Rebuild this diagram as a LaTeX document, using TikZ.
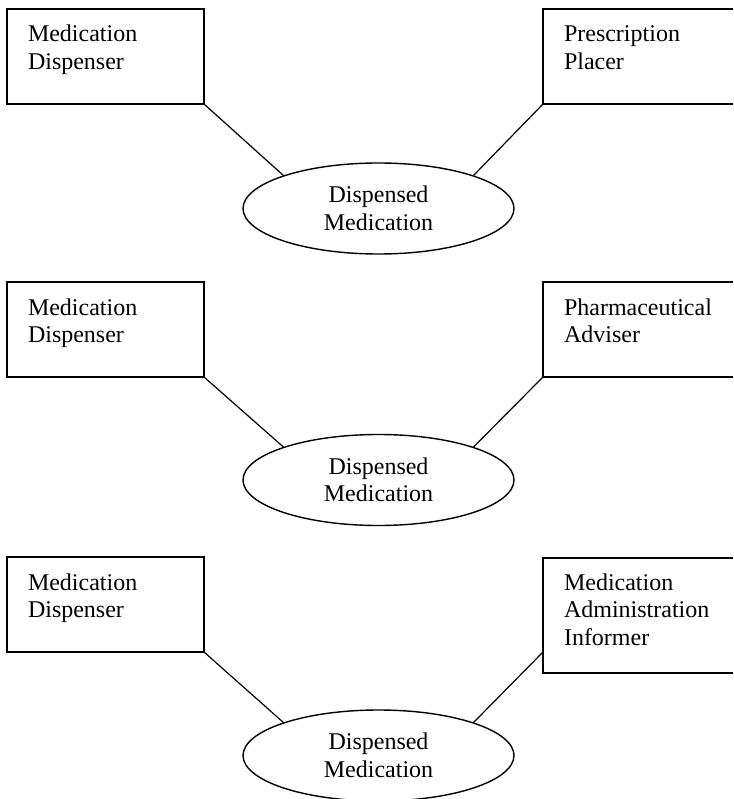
\documentclass[tikz,border=0pt]{standalone}
\usepackage{fontspec}
\setmainfont{Liberation Serif}
\usetikzlibrary{shapes.geometric}

\begin{document}
\begin{tikzpicture}[
    x = 1pt, y = -1pt,
    font = \fontsize{24}{27.5}\selectfont,
    box/.style = {rectangle, draw, line width=1.4pt, outer sep=0pt, anchor=north west, text width=155pt, align=left, inner xsep=21pt, inner ysep=0pt, minimum width=197pt, text height=33pt, text depth=62pt},
    tallbox/.style = {box, text height=32pt, text depth=83pt},
    oval/.style = {ellipse, draw, line width=1.4pt, outer sep=0pt, minimum width=271pt, minimum height=91pt, inner sep=0pt, align=center},
    line/.style = {draw, line width=1.2pt}
]
\clip (0,0) rectangle (733,799);

\node[box] (disp1) at (7,9) {Medication\\Dispenser};
\node[box] (presc) at (543,9) {Prescription\\Placer};
\node[oval] (med1) at (378.5,208.5) {Dispensed\\Medication};

\node[box] (disp2) at (7,282) {Medication\\Dispenser};
\node[box] (pharm) at (543,282) {Pharmaceutical\\Adviser};
\node[oval] (med2) at (378.5,480) {Dispensed\\Medication};

\node[box] (disp3) at (7,557) {Medication\\Dispenser};
\node[tallbox] (admin) at (543,558) {Medication\\Administration\\Informer};
\node[oval] (med3) at (378.5,755.5) {Dispensed\\Medication};

\path[line] (disp1.south east) -- (med1.161);
\path[line] (presc.south west) -- (med1.19);
\path[line] (disp2.south east) -- (med2.161);
\path[line] (pharm.south west) -- (med2.19);
\path[line] (disp3.south east) -- (med3.161);
\path[line] (admin.west |- disp3.south) -- (med3.19);
\end{tikzpicture}
\end{document}
